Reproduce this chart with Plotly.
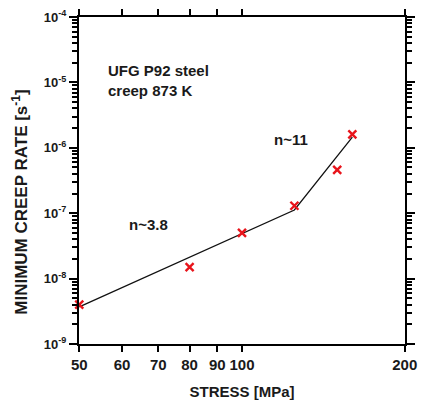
import math
import plotly.graph_objects as go

# ---- data ----
stress = [50, 80, 100, 125, 150, 160]                 # MPa
rate = [4.0e-9, 1.5e-8, 5.0e-8, 1.3e-7, 4.6e-7, 1.6e-6]  # 1/s

fit_stress = [50, 125, 160]
fit_rate = [3.7e-9, 1.12e-7, 1.46e-6]

x_ticks = [50, 60, 70, 80, 90, 200, 100]
x_ticks_text = ["50", "60", "70", "80", "90", "200", "100"]
y_ticks = [1e-9, 1e-8, 1e-7, 1e-6, 1e-5, 1e-4]
y_ticks_text = ["10<sup>-9</sup>", "10<sup>-8</sup>", "10<sup>-7</sup>",
                "10<sup>-6</sup>", "10<sup>-5</sup>", "10<sup>-4</sup>"]
y_minor = [m * 10 ** e for e in range(-9, -4) for m in range(2, 10)]

FONT = "Liberation Sans, Arial, sans-serif"
TXT = "#1a1a1a"

fig = go.Figure()
fig.add_trace(go.Scatter(x=fit_stress, y=fit_rate, mode="lines",
                         line=dict(color="#111", width=1.3), showlegend=False,
                         hoverinfo="skip"))
fig.add_trace(go.Scatter(x=stress, y=rate, mode="markers",
                         marker=dict(symbol="x-thin", size=8,
                                     line=dict(color="#e8141b", width=2.4)),
                         showlegend=False, cliponaxis=False))

eps = 0.0005
xr = [math.log10(50) - eps, math.log10(200) + eps]
yr = [-9 - eps, -4 + eps]
tf = dict(size=15, family=FONT, color=TXT)

fig.update_layout(
    template="simple_white",
    width=425, height=406,
    margin=dict(l=79, r=8, t=15, b=54),
    paper_bgcolor="white", plot_bgcolor="white",
    font=dict(family=FONT, color=TXT),
)
fig.update_xaxes(type="log", range=xr, autorange=False, showgrid=False, zeroline=False,
                 tickmode="array", tickvals=x_ticks,
                 ticktext=[f"<b>{t}</b>" for t in x_ticks_text],
                 ticks="outside", ticklen=6, tickwidth=2, tickcolor="black",
                 showline=True, linewidth=2, linecolor="black", mirror="ticks",
                 tickfont=tf,
                 title=dict(text="<b>STRESS [MPa]</b>", font=tf, standoff=14))
fig.update_yaxes(type="log", range=yr, autorange=False, showgrid=False, zeroline=False,
                 tickmode="array", tickvals=y_ticks,
                 ticktext=[f"<b>{t}</b>" for t in y_ticks_text],
                 ticks="outside", ticklen=8, tickwidth=2, tickcolor="black",
                 showline=True, linewidth=2, linecolor="black", mirror="ticks",
                 minor=dict(tickmode="array", tickvals=y_minor, ticks="outside",
                            ticklen=5, tickwidth=1.5, tickcolor="black"),
                 tickfont=dict(size=13, family=FONT, color=TXT))

fig.add_annotation(text="<b>MINIMUM CREEP RATE [s<sup>-1</sup>]</b>", textangle=-90,
                   xref="paper", yref="paper", x=-0.18, y=0.433,
                   xanchor="center", yanchor="middle",
                   showarrow=False, font=dict(size=17, family=FONT, color=TXT))
fig.add_annotation(text="<b>UFG P92 steel<br>creep 873 K</b>", xref="paper", yref="paper",
                   x=0.083, y=0.806, xanchor="left", yanchor="middle", align="left",
                   showarrow=False, font=tf)
fig.add_annotation(text="<b>n~11</b>", xref="paper", yref="paper", x=0.709, y=0.626,
                   showarrow=False, font=tf)
fig.add_annotation(text="<b>n~3.8</b>", xref="paper", yref="paper", x=0.148, y=0.332,
                   showarrow=False, font=tf)

fig.write_html("out.html")
